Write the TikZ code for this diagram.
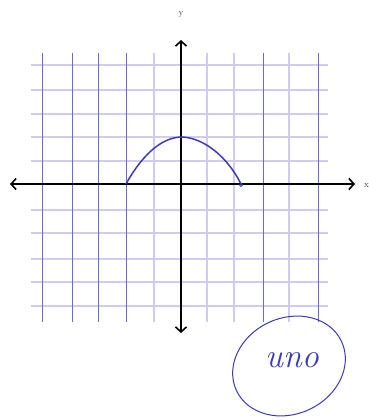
\documentclass[tikz,border=0pt]{standalone}
\usetikzlibrary{arrows.meta}
\definecolor{gridDark}{HTML}{6A6AD6}
\definecolor{gridLight}{HTML}{D2CAF4}
\definecolor{ink}{HTML}{3A3AB8}
\tikzset{
  vline/.style={gridDark, line width=0.9pt},
  vlinelight/.style={gridLight, line width=1.1pt},
  hline/.style={gridLight, line width=1.1pt},
  axis/.style={black, line width=1.6pt, {Straight Barb[length=5pt,width=11pt,line width=1.6pt]}-{Straight Barb[length=5pt,width=11pt,line width=1.6pt]}},
  curveink/.style={ink, line width=1.5pt},
  axlabel/.style={font=\small, text=black!75, inner sep=0pt},
}
\begin{document}
\begin{tikzpicture}[x=1pt,y=-1pt]
\useasboundingbox (0,0) rectangle (369,420);
% horizontal grid lines
\foreach \yy in {65,90,114,137,161,210,233,259,282,306}
  \draw[hline] (31,\yy) -- (328,\yy);
% vertical grid lines
\foreach \xx in {42,72,98,126,263,318}
  \draw[vline] (\xx,53) -- (\xx,322);
\foreach \xx in {154,207,234,289}
  \draw[vlinelight] (\xx,53) -- (\xx,322);
% axes
\coordinate (xl) at (10,184);
\coordinate (xr) at (355,184);
\coordinate (yt) at (181,40);
\coordinate (yb) at (181,333);
\draw[axis] (xl) -- (xr);
\draw[axis] (yb) -- (yt);
\node[axlabel] (ylab) at (181,14) {y};
\node[axlabel, anchor=west] (xlab) at (364,186) {x};
% curve
\coordinate (cs) at (126,184);
\coordinate (cv) at (182,137);
\coordinate (ce) at (241,184);
\draw[curveink] (cs) .. controls (145,150) and (165,137) .. (cv)
  .. controls (205,138) and (228,158) .. (ce);
\node[draw=ink, circle, inner sep=0pt, minimum size=3pt, line width=0.8pt] (dot) at (241,185) {};
% circled annotation
\draw[ink, line width=1pt, rotate around={25:(289,366)}] (289,366) ellipse (58 and 48);
\node[text=ink, font=\itshape\fontsize{34}{36}\selectfont] (uno) at (292,360) {uno};
\end{tikzpicture}
\end{document}
